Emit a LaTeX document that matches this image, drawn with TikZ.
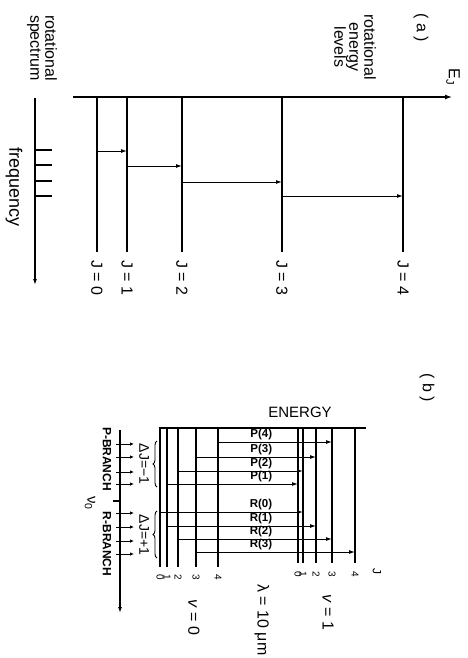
\documentclass[tikz,border=0pt]{standalone}
\usepackage{fontspec}
\setmainfont{Liberation Sans}
\usetikzlibrary{arrows.meta,decorations.pathreplacing}
\begin{document}
\begin{tikzpicture}[x=1pt,y=-1pt,
  lvl/.style={line width=1.6pt},
  blvl/.style={line width=1.1pt},
  axisline/.style={line width=1.3pt},
  trans/.style={line width=1pt,-{Latex[length=6pt,width=4pt]}},
  spec/.style={line width=1pt,-{Latex[length=4pt,width=3.5pt]}},
  tick/.style={line width=1.1pt},
  rot/.style={rotate=-90,inner sep=1pt},
  big/.style={rot,font=\fontsize{16}{15}\selectfont,align=center},
  num/.style={rot,inner sep=0pt,font=\fontsize{10}{10}\selectfont},
  caps/.style={rot,font=\bfseries\fontsize{12}{12}\selectfont},
  plabel/.style={inner sep=0.6pt,anchor=south east,font=\bfseries\fontsize{11.5}{12}\selectfont},
  brace/.style={decorate,decoration={brace,amplitude=4pt},line width=0.9pt}
]
\useasboundingbox (0,0) rectangle (467,658);

% ---------------- (a) ----------------
\node[big] (la) at (421,28) {( a )};
\node[big] (EJ) at (453,77) {E\textsubscript{J}};
\node[big] (rel) at (355,47) {rotational\\energy\\levels};
\coordinate (Eo) at (73,97);
\coordinate (Ee) at (452,97);
\draw[axisline,-{Latex[length=7pt,width=5pt]}] (Eo) -- (Ee);

\foreach \n/\x in {0/97,1/127,2/182,3/282,4/403}{
  \coordinate (aT\n) at (\x,97);
  \coordinate (aB\n) at (\x,252);
  \draw[lvl] (aT\n) -- (aB\n);
  \node[big,anchor=west] (aJ\n) at (\x,259) {J = \n};
}

\coordinate (t01a) at (97,151);  \coordinate (t01b) at (127,151);
\coordinate (t12a) at (127,166); \coordinate (t12b) at (182,166);
\coordinate (t23a) at (182,182); \coordinate (t23b) at (282,182);
\coordinate (t34a) at (282,196); \coordinate (t34b) at (403,196);
\draw[trans] (t01a) -- (t01b);
\draw[trans] (t12a) -- (t12b);
\draw[trans] (t23a) -- (t23b);
\draw[trans] (t34a) -- (t34b);

% spectrum (a)
\node[big] (rs) at (42,48) {rotational\\spectrum};
\coordinate (sa0) at (35,98);
\coordinate (sa1) at (35,285);
\draw[axisline,-{Latex[length=6pt,width=4pt]}] (sa0) -- (sa1);
\foreach \i/\y in {1/150,2/165,3/181,4/196}{
  \coordinate (sl\i) at (35,\y);
  \coordinate (sr\i) at (52,\y);
  \draw[tick] (sl\i) -- (sr\i);
}
\node[rot,font=\fontsize{18}{18}\selectfont] (fq) at (14,187) {frequency};

% ---------------- (b) ----------------
\node[big] (lb) at (427,388) {( b )};
\node[font=\fontsize{15}{15}\selectfont,inner sep=1pt] (en) at (300,412) {ENERGY};
\coordinate (eb0) at (159,428);
\coordinate (eb1) at (366,428);
\draw[axisline] (eb0) -- (eb1);

\foreach \n/\x in {0/160,1/167,2/178,3/196,4/218}{
  \coordinate (gT\n) at (\x,428);
  \coordinate (gB\n) at (\x,567);
  \draw[blvl] (gT\n) -- (gB\n);
  \node[num] (gN\n) at (\x,577) {\n};
}
\foreach \n/\x in {0/298,1/303,2/316,3/332,4/355}{
  \coordinate (uT\n) at (\x,428);
  \coordinate (uB\n) at (\x,563);
  \draw[blvl] (uT\n) -- (uB\n);
  \node[num] (uN\n) at (\x,574) {\n};
}
\node[num,font=\fontsize{12}{12}\selectfont] (Jb) at (377,571) {J};

% transitions P and R
\foreach \lab/\xa/\xb/\y in {P4/218/332/442,P3/196/316/457,P2/178/303/471,P1/167/298/484,
                            R0/160/303/512,R1/167/316/526,R2/178/332/539,R3/196/355/552}{
  \coordinate (\lab a) at (\xa,\y);
  \coordinate (\lab b) at (\xb,\y);
  \draw[trans] (\lab a) -- (\lab b);
}
\node[plabel] (lP4) at (273,441) {P(4)};
\node[plabel] (lP3) at (273,456) {P(3)};
\node[plabel] (lP2) at (273,470) {P(2)};
\node[plabel] (lP1) at (273,483) {P(1)};
\node[plabel] (lR0) at (273,511) {R(0)};
\node[plabel] (lR1) at (273,525) {R(1)};
\node[plabel] (lR2) at (273,538) {R(2)};
\node[plabel] (lR3) at (273,551) {R(3)};

% spectrum (b)
\coordinate (sb0) at (120,430);
\coordinate (sb1) at (120,613);
\draw[axisline,-{Latex[length=6pt,width=4pt]}] (sb0) -- (sb1);
\foreach \i/\y in {1/444,2/457,3/472,4/484,5/513,6/527,7/541,8/554}{
  \coordinate (bl\i) at (116,\y);
  \coordinate (br\i) at (134,\y);
  \draw[spec] (bl\i) -- (br\i);
}
\coordinate (nu0a) at (120,501);
\coordinate (nu0b) at (113,501);
\draw[tick] (nu0a) -- (nu0b);
\node[caps] (pb) at (107,459) {P-BRANCH};
\node[caps] (rb) at (107,544) {R-BRANCH};
\node[rot,font=\fontsize{15}{15}\selectfont] (nu) at (90,503) {ν\textsubscript{0}};

\coordinate (brPa) at (157,487); \coordinate (brPb) at (157,441);
\coordinate (brRa) at (157,558); \coordinate (brRb) at (157,511);
\draw[brace] (brPa) -- (brPb);
\draw[brace] (brRa) -- (brRb);
\node[rot,font=\fontsize{14}{14}\selectfont] (dJP) at (144,464) {ΔJ=−1};
\node[rot,font=\fontsize{14}{14}\selectfont] (dJR) at (144,535) {ΔJ=+1};

\node[big] (v0) at (194,617) {\textit{v} = 0};
\node[big] (v1) at (328,612) {\textit{v} = 1};
\node[big] (lam) at (262,620) {λ = 10 μm};
\end{tikzpicture}
\end{document}
